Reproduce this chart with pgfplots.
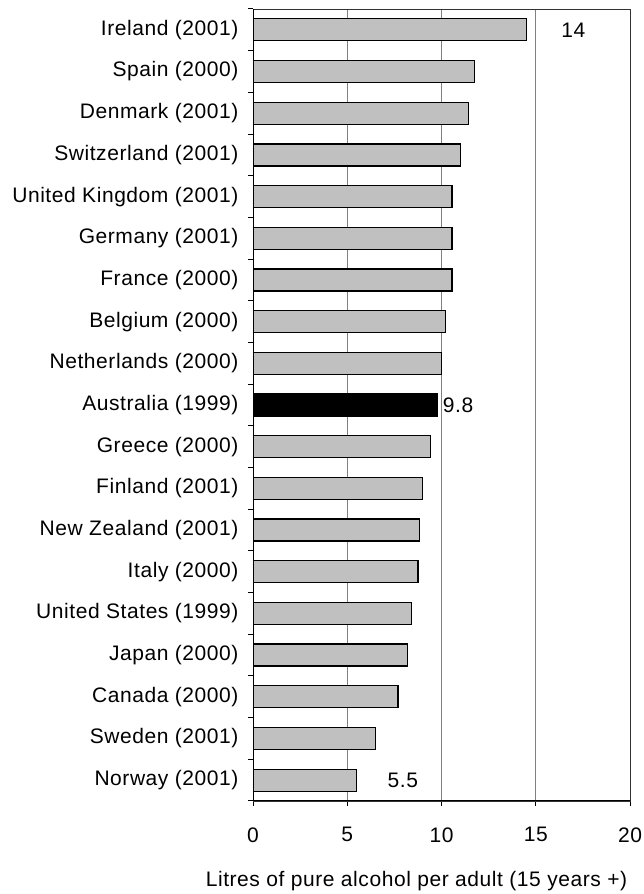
\documentclass[border=0pt]{standalone}
\usepackage{pgfplots}
\pgfplotsset{compat=1.18}
\usepackage{fontspec}
\setmainfont{Liberation Sans}[LetterSpace=2.7]
\definecolor{barfill}{RGB}{192,192,192}
\definecolor{gridc}{RGB}{128,128,128}
\begin{document}
\begin{tikzpicture}[font=\fontsize{21pt}{25pt}\selectfont]
\useasboundingbox (0,0) rectangle (643pt,894pt);
\begin{axis}[
  at={(253pt,93pt)}, anchor=south west,
  scale only axis, width=377pt, height=792pt,
  xmin=0, xmax=20, ymin=-0.5, ymax=18.5,
  xtick={0,5,10,15,20},
  ytick={0,...,18},
  yticklabels={Norway (2001), Sweden (2001), Canada (2000), Japan (2000), United States (1999), Italy (2000), New Zealand (2001), Finland (2001), Greece (2000), Australia (1999), Netherlands (2000), Belgium (2000), France (2000), Germany (2001), United Kingdom (2001), Switzerland (2001), Denmark (2001), Spain (2000), Ireland (2001)},
  minor ytick={-0.5,0.5,...,18.5},
  major tick length=5pt, minor tick length=5pt,
  every major y tick/.append style={draw=none},
  tick align=outside, tick pos=left,
  tick style={black, line width=1pt},
  axis line style={draw=black!80, line width=0.8pt},
  xmajorgrids, grid style={gridc, line width=0.8pt},
  /pgf/number format/assume math mode=true,
  ticklabel style={font=\fontsize{21pt}{25pt}\selectfont},
  yticklabel style={xshift=-6pt},
  xticklabel style={yshift=-18pt},
]
\addplot[xbar, bar width=22pt, bar shift=0pt, fill=barfill, draw=black, line width=1.3pt]
  coordinates {(5.5,0) (6.5,1) (7.7,2) (8.2,3) (8.4,4) (8.75,5) (8.85,6) (9.0,7) (9.4,8)
               (10.0,10) (10.2,11) (10.55,12) (10.55,13) (10.55,14) (11.0,15) (11.45,16) (11.75,17) (14.5,18)};
\addplot[xbar, bar width=22pt, bar shift=0pt, fill=black, draw=black, line width=1.3pt]
  coordinates {(9.8,9)};
\draw[black, line width=1.5pt] (rel axis cs:0,1) -- (rel axis cs:0,0) -- (rel axis cs:1,0);
\node at (axis cs:17,18) {14};
\node[anchor=west, inner sep=5pt] at (axis cs:9.8,9) {9.8};
\node at (axis cs:7.95,0) {5.5};
\end{axis}
\node at (416.5pt,13pt) {Litres of pure alcohol per adult (15 years +)};
\end{tikzpicture}
\end{document}
